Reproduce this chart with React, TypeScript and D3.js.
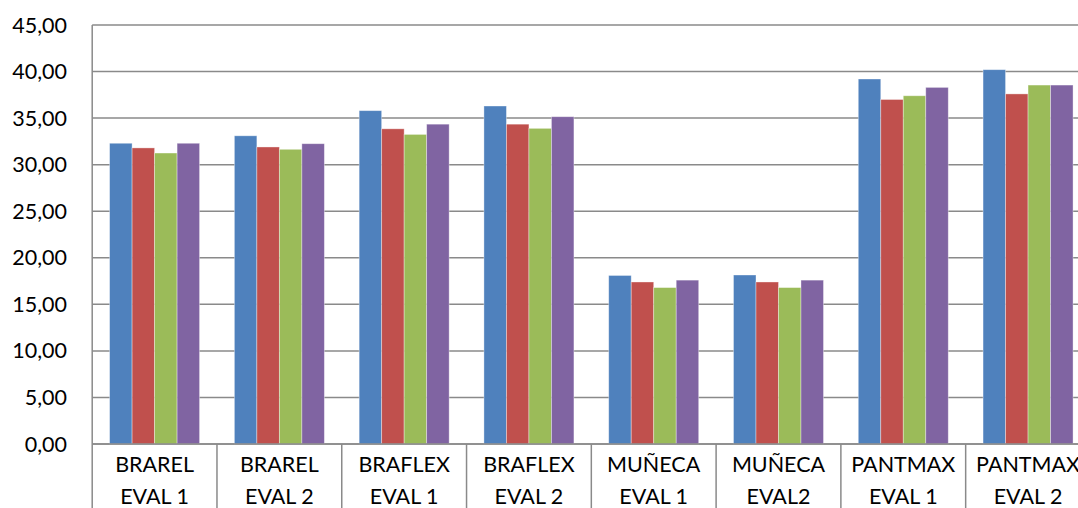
import React from "react";
import { scaleBand, scaleLinear, range } from "d3";

const categories = [
  ["BRAREL", "EVAL 1"],
  ["BRAREL", "EVAL 2"],
  ["BRAFLEX", "EVAL 1"],
  ["BRAFLEX", "EVAL 2"],
  ["MUÑECA", "EVAL 1"],
  ["MUÑECA", "EVAL2"],
  ["PANTMAX", "EVAL 1"],
  ["PANTMAX", "EVAL 2"],
];

const series1 = [32.3, 33.1, 35.8, 36.3, 18.1, 18.15, 39.2, 40.2];
const series2 = [31.8, 31.9, 33.85, 34.35, 17.4, 17.4, 37.0, 37.6];
const series3 = [31.25, 31.65, 33.25, 33.9, 16.8, 16.8, 37.4, 38.55];
const series4 = [32.3, 32.25, 34.35, 35.15, 17.6, 17.6, 38.3, 38.55];

const colors = ["#4F81BD", "#C0504D", "#9BBB59", "#8064A2"];
const yTicks = range(0, 46, 5);

const W = 1078;
const H = 508;
const left = 92.2;
const top = 25;
const bottom = 444;
const step = 124.78;

const App = () => {
  const allSeries = [series1, series2, series3, series4];
  const keys = categories.map((c) => c.join(" "));

  const x0 = scaleBand().domain(keys).range([left, left + step * keys.length]);
  const x1 = scaleBand()
    .domain(["0", "1", "2", "3"])
    .range([0, x0.bandwidth()])
    .paddingOuter(0.773);
  const y = scaleLinear().domain([0, 45]).range([bottom, top]);

  const font = "Lato, 'Open Sans', sans-serif";
  const grid = "#8a8a8a";

  return (
    <div style={{ position: "fixed", left: 0, top: 0, width: W, height: H, background: "#fff" }}>
      <svg width={W} height={H} style={{ display: "block" }}>
        <rect width={W} height={H} fill="#fff" />
        {/* gridlines */}
        {yTicks.map((t) => (
          <line key={t} x1={left} x2={W + 20} y1={y(t)} y2={y(t)} stroke={grid} strokeWidth={1.5} />
        ))}
        {/* bars */}
        {keys.map((k, i) => (
          <g key={k} transform={`translate(${x0(k)},0)`}>
            {allSeries.map((s, j) => (
              <rect
                key={j}
                x={x1(String(j))}
                y={y(s[i])}
                width={x1.bandwidth()}
                height={y(0) - y(s[i])}
                fill={colors[j]}
                stroke="rgba(255,255,255,0.45)"
                strokeWidth={0.8}
              />
            ))}
          </g>
        ))}
        {/* axes */}
        <line x1={left} x2={left} y1={top} y2={H} stroke={grid} strokeWidth={1.5} />
        <line x1={left} x2={W + 20} y1={bottom} y2={bottom} stroke={grid} strokeWidth={1.5} />
        {keys.map((k) => (
          <line key={k} x1={(x0(k) as number) + step} x2={(x0(k) as number) + step} y1={bottom} y2={H} stroke={grid} strokeWidth={1.5} />
        ))}
        {/* y labels */}
        {yTicks.map((t) => (
          <text key={t} x={67} y={y(t) + 7.5} textAnchor="end" fontFamily={font} fontSize={21.5} fill="#000">
            {t.toFixed(2).replace(".", ",")}
          </text>
        ))}
        {/* category labels */}
        {categories.map((c, i) => (
          <text key={i} textAnchor="middle" fontFamily={font} fontSize={21.5} fill="#000">
            <tspan x={(x0(keys[i]) as number) + step / 2} y={472}>{c[0]}</tspan>
            <tspan x={(x0(keys[i]) as number) + step / 2} y={504}>{c[1]}</tspan>
          </text>
        ))}
      </svg>
    </div>
  );
};

export default App;
